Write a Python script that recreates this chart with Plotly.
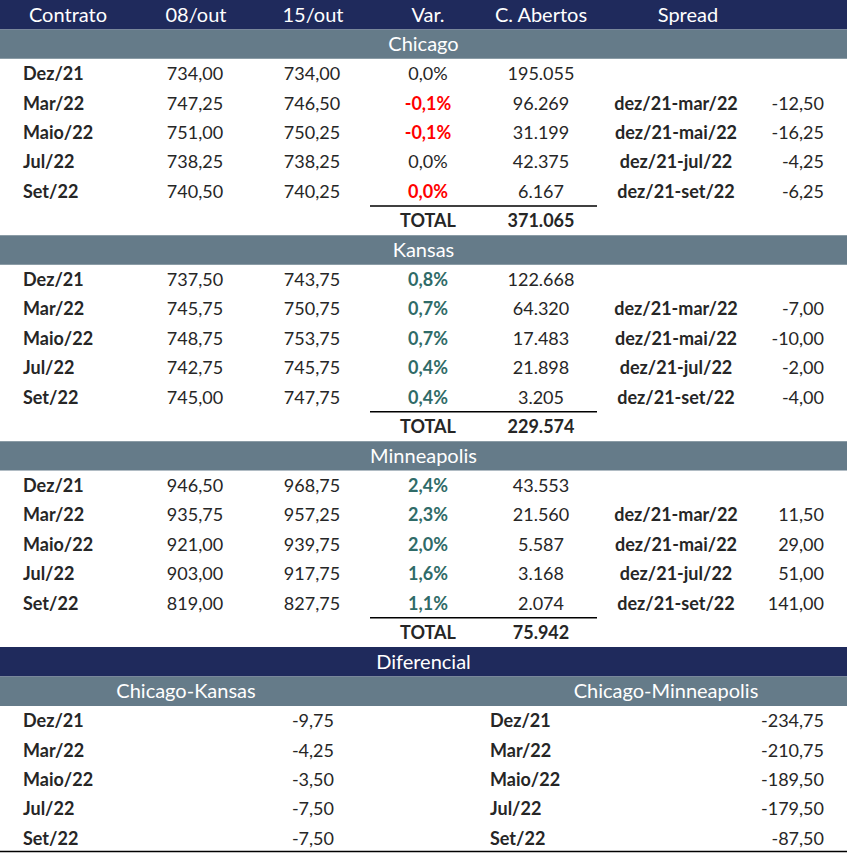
import plotly.graph_objects as go

# Dados (cotações do trigo, contratos futuros)
contracts = ["Dez/21", "Mar/22", "Maio/22", "Jul/22", "Set/22"]
header = ["Contrato", "08/out", "15/out", "Var.", "C. Abertos", "Spread"]

chicago_0810 = [734.00, 747.25, 751.00, 738.25, 740.50]
chicago_1510 = [734.00, 746.50, 750.25, 738.25, 740.25]
chicago_oi = [195055, 96269, 31199, 42375, 6167]
chicago_total = 371065
chicago_spread = [None, -12.50, -16.25, -4.25, -6.25]

kansas_0810 = [737.50, 745.75, 748.75, 742.75, 745.00]
kansas_1510 = [743.75, 750.75, 753.75, 745.75, 747.75]
kansas_oi = [122668, 64320, 17483, 21898, 3205]
kansas_total = 229574
kansas_spread = [None, -7.00, -10.00, -2.00, -4.00]

minneapolis_0810 = [946.50, 935.75, 921.00, 903.00, 819.00]
minneapolis_1510 = [968.75, 957.25, 939.75, 917.75, 827.75]
minneapolis_oi = [43553, 21560, 5587, 3168, 2074]
minneapolis_total = 75942
minneapolis_spread = [None, 11.50, 29.00, 51.00, 141.00]

spread_labels = [None, "dez/21-mar/22", "dez/21-mai/22", "dez/21-jul/22", "dez/21-set/22"]

diff_chicago_kansas = [-9.75, -4.25, -3.50, -7.50, -7.50]
diff_chicago_minneapolis = [-234.75, -210.75, -189.50, -179.50, -87.50]

# Estilo
NAVY = "#1F2A5C"
GREY = "#657B89"
GREEN = "#2F6B68"
RED = "#FF0000"
INK = "#262626"
FONT = "Lato"
SIZE = 18
HDR_SIZE = 20
TEXT_DY = 0.57  # centro visual do texto dentro da linha

# colunas (px)
X_LABEL = 23
X_0810 = 195
X_1510 = 312
X_VAR = 428
X_OI = 541
X_SPLBL = 676
X_SPVAL = 824
X_HDR = [68, 196, 313, 428, 541, 688]
X_DIFF_L_LBL, X_DIFF_L_VAL = 23, 334
X_DIFF_R_LBL, X_DIFF_R_VAL = 490, 824
W = 847
N_ROWS = 29


def br(v, dec=2):
    s = f"{v:,.{dec}f}"
    return s.replace(",", "X").replace(".", ",").replace("X", ".")


def br_int(v):
    return f"{v:,}".replace(",", ".")


fig = go.Figure()
shapes = []


def band(row, color):
    shapes.append(dict(type="rect", xref="x", yref="y", x0=0, x1=W, y0=row, y1=row + 1,
                       fillcolor=color, line_width=0, layer="below"))


def add_text(xs, rows, texts, pos="middle center", colors=INK, bold=False, size=SIZE):
    if bold:
        texts = [f"<b>{t}</b>" for t in texts]
    fig.add_trace(go.Scatter(
        x=xs, y=[r + TEXT_DY for r in rows], text=texts, mode="text",
        textposition=pos, textfont=dict(family=FONT, size=size, color=colors),
        hoverinfo="skip", showlegend=False, cliponaxis=False,
    ))


# cabeçalho
band(0, NAVY)
add_text(X_HDR, [0] * len(header), header, colors="white", size=HDR_SIZE)

sections = [
    ("Chicago", chicago_0810, chicago_1510, chicago_oi, chicago_total, chicago_spread),
    ("Kansas", kansas_0810, kansas_1510, kansas_oi, kansas_total, kansas_spread),
    ("Minneapolis", minneapolis_0810, minneapolis_1510, minneapolis_oi, minneapolis_total, minneapolis_spread),
]

row = 1
for name, p_old, p_new, oi, total, spread in sections:
    band(row, GREY)
    add_text([W / 2], [row], [name], colors="white", size=HDR_SIZE)
    rows = [row + 1 + i for i in range(len(contracts))]
    add_text([X_LABEL] * 5, rows, contracts, pos="middle right", bold=True)
    add_text([X_0810] * 5, rows, [br(v) for v in p_old])
    add_text([X_1510] * 5, rows, [br(v) for v in p_new])
    var = [(b / a - 1) * 100 for a, b in zip(p_old, p_new)]
    var_txt, var_col = [], []
    for v in var:
        t = br(abs(v) if round(v, 1) == 0 else v, 1) + "%"
        if v < 0:
            var_txt.append(f"<b>{t}</b>")
            var_col.append(RED)
        elif v > 0:
            var_txt.append(f"<b>{t}</b>")
            var_col.append(GREEN)
        else:
            var_txt.append(t)
            var_col.append(INK)
    add_text([X_VAR] * 5, rows, var_txt, colors=var_col)
    add_text([X_OI] * 5, rows, [br_int(v) for v in oi])
    sp_rows = [r for r, s in zip(rows, spread) if s is not None]
    add_text([X_SPLBL] * len(sp_rows), sp_rows, [l for l in spread_labels if l], bold=True)
    add_text([X_SPVAL] * len(sp_rows), sp_rows, [br(s) for s in spread if s is not None], pos="middle left")
    total_row = row + 1 + len(contracts)
    shapes.append(dict(type="line", xref="x", yref="y", x0=370, x1=597, y0=total_row, y1=total_row,
                       line=dict(color="black", width=1.5)))
    add_text([X_VAR, X_OI], [total_row, total_row], ["TOTAL", br_int(total)], bold=True)
    row = total_row + 1

# diferencial
band(row, NAVY)
add_text([W / 2], [row], ["Diferencial"], colors="white", size=HDR_SIZE)
row += 1
band(row, GREY)
add_text([186, 666], [row, row], ["Chicago-Kansas", "Chicago-Minneapolis"], colors="white", size=HDR_SIZE)
rows = [row + 1 + i for i in range(len(contracts))]
add_text([X_DIFF_L_LBL] * 5, rows, contracts, pos="middle right", bold=True)
add_text([X_DIFF_L_VAL] * 5, rows, [br(v) for v in diff_chicago_kansas], pos="middle left")
add_text([X_DIFF_R_LBL] * 5, rows, contracts, pos="middle right", bold=True)
add_text([X_DIFF_R_VAL] * 5, rows, [br(v) for v in diff_chicago_minneapolis], pos="middle left")
shapes.append(dict(type="line", xref="x", yref="y", x0=0, x1=W, y0=N_ROWS - 0.05, y1=N_ROWS - 0.05,
                   line=dict(color="black", width=1.5)))

fig.update_layout(
    width=847, height=853,
    margin=dict(l=0, r=0, t=0, b=0),
    paper_bgcolor="white", plot_bgcolor="white",
    shapes=shapes,
    xaxis=dict(range=[0, W], visible=False, fixedrange=True),
    yaxis=dict(range=[N_ROWS, 0], visible=False, fixedrange=True),
)

# sem a margem padrão do <body>, a tabela ocupa a janela inteira
fig.write_html("out.html", config={"displayModeBar": False},
               post_script="document.body.style.margin='0';document.body.style.overflow='hidden';")
